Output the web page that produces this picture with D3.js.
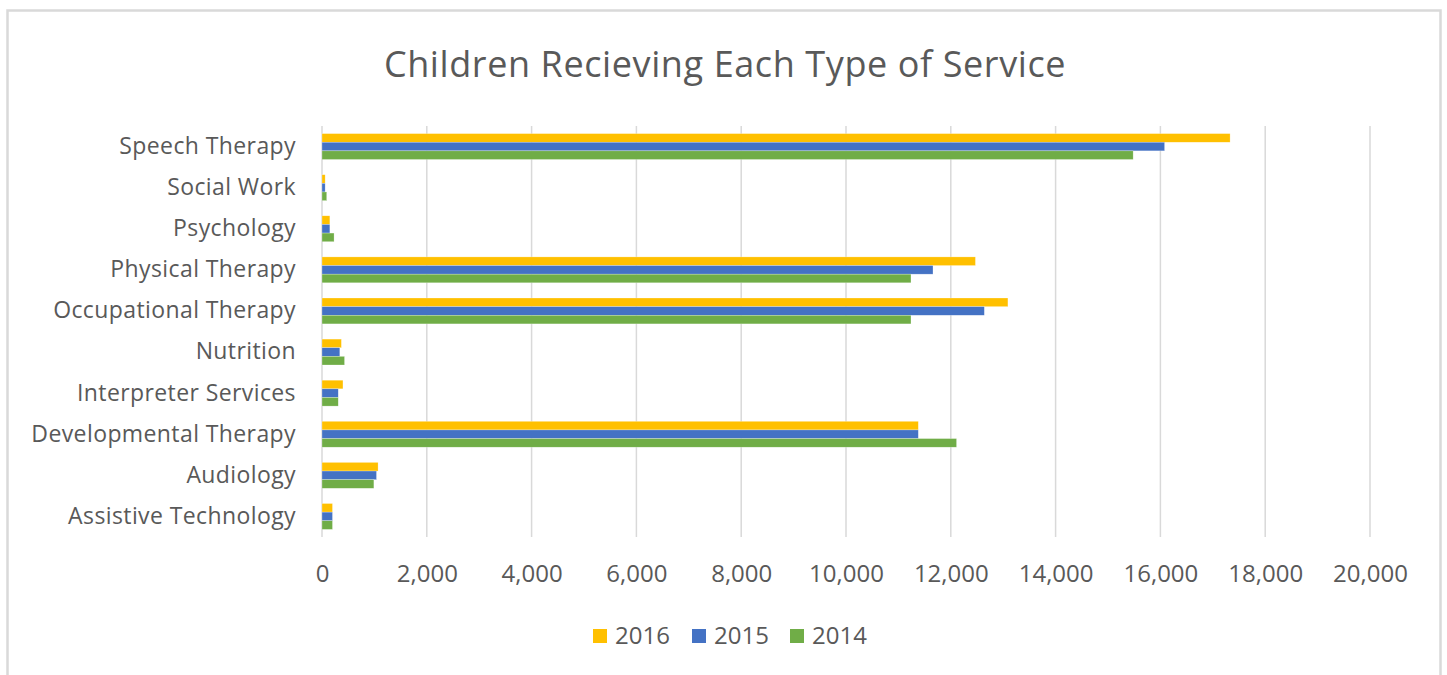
<!DOCTYPE html>
<html>
<head>
<meta charset="utf-8">
<script src="https://cdn.jsdelivr.net/npm/d3@7"></script>
<style>
  body { margin: 0; background: #fff; }
  text { font-family: "Open Sans", sans-serif; fill: #595959; }
</style>
</head>
<body>
<svg width="1447" height="675"></svg>
<script>
let categories = [
  "Speech Therapy",
  "Social Work",
  "Psychology",
  "Physical Therapy",
  "Occupational Therapy",
  "Nutrition",
  "Interpreter Services",
  "Developmental Therapy",
  "Audiology",
  "Assistive Technology"
];

let years = ["2016", "2015", "2014"];

let values2016 = [17330, 60, 150, 12470, 13090, 370, 400, 11380, 1070, 200];
let values2015 = [16080, 60, 150, 11660, 12640, 340, 310, 11380, 1040, 200];
let values2014 = [15480, 90, 230, 11240, 11240, 430, 310, 12110, 990, 200];

let xTicks = [0, 2000, 4000, 6000, 8000, 10000, 12000, 14000, 16000, 18000, 20000];

let colors = ["#FFC000", "#4472C4", "#70AD47"];

let title = "Children Recieving Each Type of Service";

let series = [values2016, values2015, values2014];

let svg = d3.select("svg");

// chart border
svg.append("rect")
  .attr("x", 7.5)
  .attr("y", 10.5)
  .attr("width", 1433)
  .attr("height", 680)
  .style("fill", "none")
  .style("stroke", "#d9d9d9")
  .style("stroke-width", 2.5);

let x = d3.scaleLinear()
  .domain([0, 20000])
  .range([322, 1370]);

let y = d3.scaleBand()
  .domain(categories)
  .range([126, 537])
  .paddingInner(0.37)
  .paddingOuter(0.185);

let ySub = d3.scaleBand()
  .domain(years)
  .range([0, y.bandwidth()]);

svg.append("text")
  .attr("x", 725)
  .attr("y", 77)
  .attr("text-anchor", "middle")
  .style("font-size", "36px")
  .style("letter-spacing", "0.6px")
  .text(title);

// gridlines
svg.append("g")
  .selectAll("line")
  .data(xTicks)
  .enter()
  .append("line")
  .attr("x1", d => x(d))
  .attr("x2", d => x(d))
  .attr("y1", 126)
  .attr("y2", 537)
  .style("stroke", "#d9d9d9")
  .style("stroke-width", 1.5);

// bars
let groups = svg.append("g")
  .selectAll("g")
  .data(categories)
  .enter()
  .append("g")
  .attr("transform", d => "translate(0," + y(d) + ")");

groups.selectAll("rect")
  .data((c, i) => years.map((yr, j) => ({ year: yr, value: series[j][i], color: colors[j] })))
  .enter()
  .append("rect")
  .attr("x", x(0))
  .attr("y", d => ySub(d.year))
  .attr("width", d => x(d.value) - x(0))
  .attr("height", ySub.bandwidth())
  .style("fill", d => d.color)
  .style("stroke", "#fff")
  .style("stroke-opacity", 0.5)
  .style("stroke-width", 0.5);

// x axis
let xAxis = d3.axisBottom(x)
  .tickValues(xTicks)
  .tickFormat(d3.format(","))
  .tickSize(0)
  .tickPadding(0);

let gx = svg.append("g")
  .attr("transform", "translate(0,565)")
  .call(xAxis);
gx.select(".domain").remove();
gx.selectAll("text")
  .attr("dy", "0.71em")
  .style("font-size", "24px")
  .style("font-family", "'Open Sans', sans-serif")
  .style("fill", "#595959");

// y axis
let yAxis = d3.axisLeft(y)
  .tickSize(0)
  .tickPadding(0);

let gy = svg.append("g")
  .attr("transform", "translate(296,0)")
  .call(yAxis);
gy.select(".domain").remove();
gy.selectAll("text")
  .style("font-size", "23px")
  .style("letter-spacing", "0.4px")
  .style("font-family", "'Open Sans', sans-serif")
  .style("fill", "#595959");

// legend
let legendX = [593, 692, 790];
let legend = svg.append("g")
  .selectAll("g")
  .data(years)
  .enter()
  .append("g")
  .attr("transform", (d, i) => "translate(" + legendX[i] + ",629)");

legend.append("rect")
  .attr("width", 14)
  .attr("height", 14)
  .style("fill", (d, i) => colors[i]);

legend.append("text")
  .attr("x", 22)
  .attr("y", 7)
  .attr("dy", "0.35em")
  .style("font-size", "24px")
  .text(d => d);
</script>
</body>
</html>
